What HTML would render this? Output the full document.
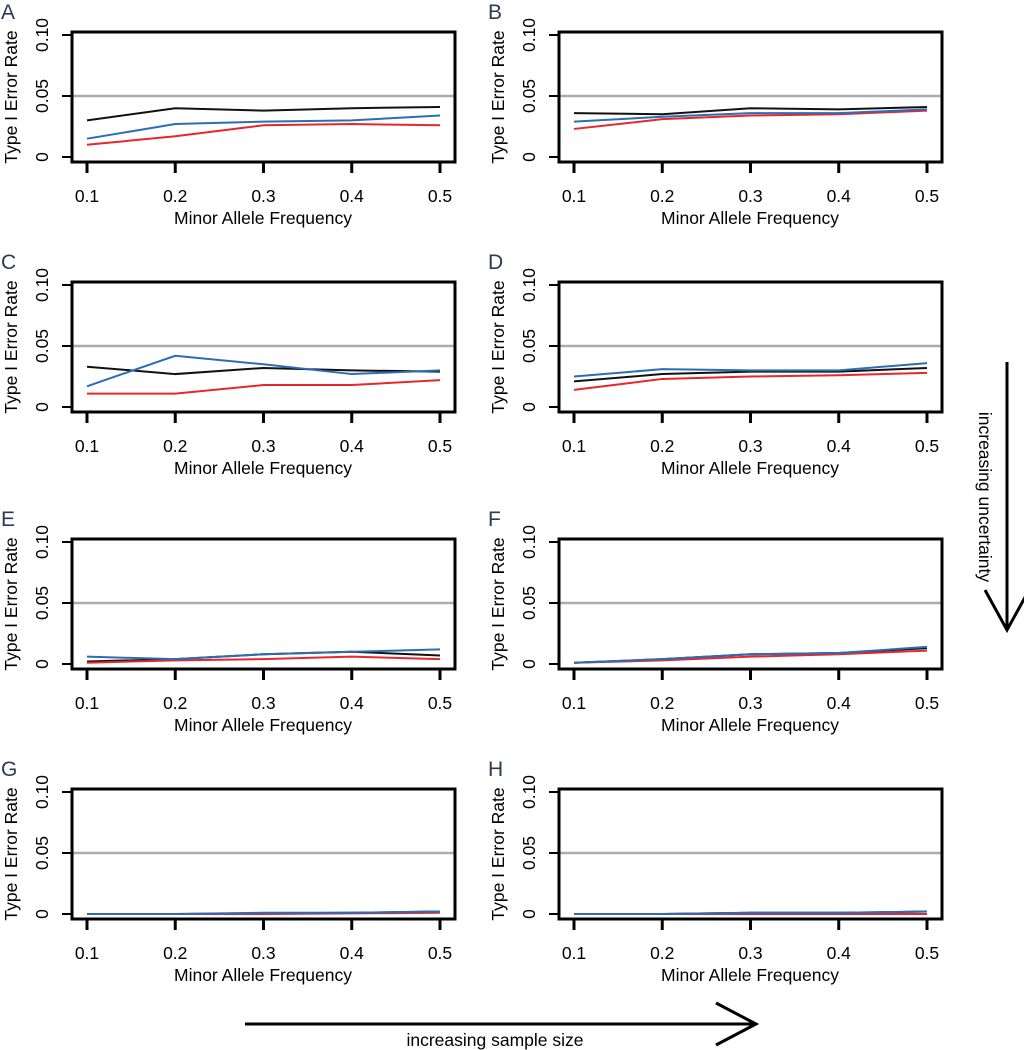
<!DOCTYPE html>
<html><head><meta charset="utf-8"><style>
body{margin:0;background:#fff;}
svg{display:block;font-family:"Liberation Sans",Arial,sans-serif;}
</style></head><body>
<svg id="fig" width="1024" height="1050">
  <g>
    <line x1="1007" y1="362" x2="1007" y2="628" stroke="#000" stroke-width="3"/>
    <polyline points="985,590 1007,630 1029,590" fill="none" stroke="#000" stroke-width="3"/>
    <text x="979" y="497" font-size="17.5" text-anchor="middle" transform="rotate(90 979 497)">increasing uncertainty</text>
  </g>
  <g>
    <line x1="245" y1="1024" x2="754" y2="1024" stroke="#000" stroke-width="3"/>
    <polyline points="716,1003 756,1024 716,1045" fill="none" stroke="#000" stroke-width="3"/>
    <text x="495" y="1046" font-size="17.5" text-anchor="middle">increasing sample size</text>
  </g>
</svg>
<script>
const panelLetters = ["A","B","C","D","E","F","G","H"];
const mafValues = [0.1,0.2,0.3,0.4,0.5];
const xTickLabels = ["0.1","0.2","0.3","0.4","0.5"];
const yTickValues = [0,0.05,0.10];
const yTickLabels = ["0","0.05","0.10"];
const nominalAlpha = 0.05;
const blackSeries = [
  [0.030,0.040,0.038,0.040,0.041],
  [0.036,0.035,0.040,0.039,0.041],
  [0.033,0.027,0.032,0.030,0.029],
  [0.021,0.027,0.029,0.029,0.032],
  [0.002,0.004,0.008,0.010,0.007],
  [0.001,0.004,0.008,0.009,0.013],
  [0.000,0.000,0.0005,0.001,0.002],
  [0.000,0.000,0.001,0.001,0.002]
];
const redSeries = [
  [0.010,0.017,0.026,0.027,0.026],
  [0.023,0.031,0.034,0.035,0.038],
  [0.011,0.011,0.018,0.018,0.022],
  [0.014,0.023,0.025,0.026,0.028],
  [0.001,0.003,0.004,0.006,0.004],
  [0.001,0.003,0.006,0.008,0.011],
  [0.000,0.000,0.000,0.0005,0.001],
  [0.000,0.000,0.000,0.000,0.000]
];
const blueSeries = [
  [0.015,0.027,0.029,0.030,0.034],
  [0.029,0.033,0.036,0.036,0.039],
  [0.017,0.042,0.035,0.027,0.030],
  [0.025,0.031,0.030,0.030,0.036],
  [0.006,0.004,0.008,0.010,0.012],
  [0.001,0.004,0.008,0.009,0.014],
  [0.000,0.000,0.001,0.001,0.002],
  [0.000,0.000,0.001,0.001,0.002]
];
const NS="http://www.w3.org/2000/svg";
const svg=document.getElementById('fig');
const rowOff=[0,250,507,757], colOff=[0,487];
function mk(tag,attrs,parent){const e=document.createElementNS(NS,tag);for(const k in attrs)e.setAttribute(k,attrs[k]);parent.appendChild(e);return e;}
panelLetters.forEach((L,i)=>{
  const ox=colOff[i%2], oy=rowOff[Math.floor(i/2)];
  const g=mk('g',{transform:`translate(${ox},${oy})`},svg);
  
  
  const xs=v=>87+(v-0.1)/0.4*353;
  const ys=v=>157-v/0.10*122;
  const lt=mk('text',{x:1,y:19,'font-size':21,fill:'#2b3b55'},g);lt.textContent=L;
  
  
  const yl=mk('text',{x:0,y:0,'font-size':17.5,'text-anchor':'middle',transform:`translate(17,97) rotate(-90)`},g);yl.textContent='Type I Error Rate';
  
  
  yTickValues.forEach((v,j)=>{
    mk('line',{x1:62,x2:72,y1:ys(v),y2:ys(v),stroke:'#000','stroke-width':2},g);
    const t=mk('text',{x:0,y:0,'font-size':17.5,'text-anchor':'middle',transform:`translate(48,${ys(v)}) rotate(-90)`},g);t.textContent=yTickLabels[j];
    
    
  });
  mafValues.forEach((v,j)=>{
    mk('line',{x1:xs(v),x2:xs(v),y1:162,y2:173,stroke:'#000','stroke-width':3},g);
    const t=mk('text',{x:xs(v),y:202,'font-size':17.5,'text-anchor':'middle'},g);t.textContent=xTickLabels[j];
    
    
  });
  const xt=mk('text',{x:263,y:224,'font-size':17.5,'text-anchor':'middle'},g);xt.textContent='Minor Allele Frequency';
  
  
  const ref=mk('line',{x1:72,x2:455,y1:ys(nominalAlpha),y2:ys(nominalAlpha),stroke:'#a9adb2','stroke-width':2.5},g);
  
  
  [[blackSeries,'#111','black-series'],[redSeries,'#e8262c','red-series'],[blueSeries,'#2c6db5','blue-series']].forEach(([s,c,n])=>{
    const pts=s[i].map((v,j)=>xs(mafValues[j])+','+ys(v)).join(' ');
    const p=mk('polyline',{points:pts,fill:'none',stroke:c,'stroke-width':2},g);
    
    
  });
  const box=mk('rect',{x:72,y:32,width:383,height:130,fill:'none',stroke:'#000','stroke-width':3},g);
  
  
});
</script>
</body></html>
